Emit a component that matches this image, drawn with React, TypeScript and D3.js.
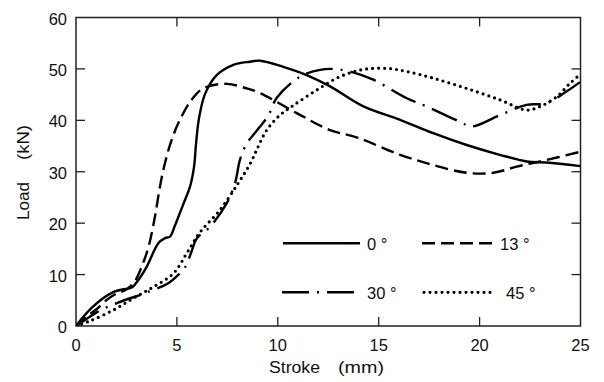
import React from "react";
import * as d3 from "d3";

const xTicks = [0, 5, 10, 15, 20, 25];
const yTicks = [0, 10, 20, 30, 40, 50, 60];

const deg0: [number, number][] = [
  [0, 0], [0.3, 1.5], [0.8, 3.6], [1.34, 5.4], [1.85, 6.6], [2.3, 7.1], [2.76, 7.5], [3.1, 9], [3.5, 11.5],
  [4.08, 16.1], [4.41, 17.1], [4.66, 17.4], [4.9, 19.5], [5.15, 22], [5.4, 24.5], [5.65, 27.1], [5.85, 31],
  [5.95, 35.5], [6.1, 40.5], [6.4, 45.2], [6.97, 48.8], [7.8, 50.8], [8.62, 51.4], [9.12, 51.6], [10.27, 50.4],
  [11.43, 48.8], [12.59, 46.6], [14.24, 42.7], [16.06, 40.1], [17.7, 37.5], [19.36, 35.2], [21.0, 33.3],
  [22.33, 32.0], [23.3, 31.8], [25, 31.1],
];

const deg13: [number, number][] = [
  [0, 0], [0.5, 1.8], [1.0, 3.2], [1.5, 5.0], [2.0, 6.3], [2.5, 7.1], [2.9, 8.6], [3.3, 12.0], [3.6, 15.5],
  [3.9, 21], [4.16, 27.1], [4.41, 31.7], [4.74, 36.2], [5.15, 40.1], [5.73, 44], [6.3, 46.2], [7.47, 47.1],
  [8.46, 46.2], [9.12, 45.3], [10.94, 41.4], [12.59, 38.1], [13.9, 36.7], [16.06, 33.3], [17.7, 31.3],
  [19.36, 29.8], [20.68, 29.8], [21.84, 31], [23, 32], [25, 33.9],
];

const deg30: [number, number][] = [
  [0, 0], [0.5, 1.3], [1.0, 2.6], [1.5, 3.6], [2.0, 4.4], [2.6, 5.3], [3.17, 6], [3.6, 6.7], [4.2, 7.6],
  [4.57, 8.3], [5.0, 9.7], [5.4, 11.4], [5.7, 14.2], [5.98, 17.0], [6.64, 19.3], [7.47, 23.9], [7.88, 27.8],
  [8.13, 32.4], [8.46, 35.5], [8.79, 37.2], [9.12, 38.8], [9.53, 40.9], [9.95, 44.4], [11.1, 48.5],
  [12.09, 49.8], [12.75, 50], [13.58, 49.5], [14.73, 47.9], [16.39, 44.3], [17.38, 42.7], [19.03, 39.7],
  [19.61, 38.8], [21.0, 41], [22.33, 43], [23.3, 43.3], [24.3, 45.6], [25, 47.5],
];

const deg45: [number, number][] = [
  [0, 0], [0.7, 1.0], [1.85, 3.1], [2.84, 5.4], [3.83, 7.6], [4.82, 10.2], [5.48, 14.1], [6.14, 18.2],
  [7.14, 22.6], [8.04, 27.8], [8.62, 31.5], [9.03, 34.9], [9.45, 38.1], [10.1, 41], [10.77, 42.9],
  [11.93, 45.9], [13.08, 48.5], [14.24, 49.9], [15.4, 50.1], [16.39, 49.5], [17.7, 48.2], [19.36, 46.2],
  [21.0, 44], [22.33, 42], [23, 42.7], [23.82, 44.6], [24.48, 47.2], [25, 49],
];

const seriesLabels = ["0 °", "13 °", "30 °", "45 °"];
const xLabelParts = ["Stroke", "(mm)"];
const yLabelParts = ["Load", "(kN)"];

const W = 604;
const H = 382;
const L = 76;
const R = 580.5;
const T = 17.5;
const B = 326;

const styles = [
  { dash: undefined as string | undefined, cap: "butt", width: 2.4 },
  { dash: "13,6", cap: "butt", width: 2.4 },
  { dash: "27,8,2,8", cap: "butt", width: 2.4 },
  { dash: "0,6", cap: "round", width: 3.2 },
];

export default function App() {
  const x = d3.scaleLinear().domain([0, 25]).range([L, R]);
  const y = d3.scaleLinear().domain([0, 60]).range([B, T]);
  const line = d3
    .line<[number, number]>()
    .x((d) => x(d[0]))
    .y((d) => y(d[1]))
    .curve(d3.curveCatmullRom.alpha(0.5));
  const data = [deg0, deg13, deg30, deg45];
  const font = "'Liberation Sans', Arial, sans-serif";
  const tickLen = 9;
  const axisColor = "#222";

  const legendPos = [
    { x1: 283, x2: 360, y: 243.3, tx: 367, ty: 250 },
    { x1: 422, x2: 497, y: 243.3, tx: 500, ty: 250 },
    { x1: 282, x2: 357, y: 292.3, tx: 367, ty: 298.5 },
    { x1: 424, x2: 492, y: 292.3, tx: 506, ty: 298.5 },
  ];

  return (
    <svg
      width={W}
      height={H}
      style={{ position: "absolute", left: 0, top: 0, background: "#fff" }}
      fontFamily={font}
    >
      <rect x={0} y={0} width={W} height={H} fill="#fff" />
      <defs>
        <clipPath id="plot">
          <rect x={L} y={T} width={R - L} height={B - T} />
        </clipPath>
      </defs>
      {xTicks.slice(1, -1).map((t) => (
        <g key={"xt" + t}>
          <line x1={x(t)} x2={x(t)} y1={B} y2={B - tickLen} stroke={axisColor} strokeWidth={1.3} />
          <line x1={x(t)} x2={x(t)} y1={T} y2={T + tickLen} stroke={axisColor} strokeWidth={1.3} />
        </g>
      ))}
      {yTicks.slice(1, -1).map((t) => (
        <g key={"yt" + t}>
          <line x1={L} x2={L + tickLen} y1={y(t)} y2={y(t)} stroke={axisColor} strokeWidth={1.3} />
          <line x1={R} x2={R - tickLen} y1={y(t)} y2={y(t)} stroke={axisColor} strokeWidth={1.3} />
        </g>
      ))}
      <rect x={L} y={T} width={R - L} height={B - T} fill="none" stroke={axisColor} strokeWidth={1.5} />
      {xTicks.map((t) => (
        <text key={"xl" + t} x={x(t)} y={351} fontSize={16.5} textAnchor="middle" fill="#111">
          {t}
        </text>
      ))}
      {yTicks.map((t) => (
        <text key={"yl" + t} x={67} y={y(t) + 7} fontSize={16.5} textAnchor="end" fill="#111">
          {t}
        </text>
      ))}
      <text x={269} y={373} fontSize={16} fill="#111" textLength={51} lengthAdjust="spacingAndGlyphs">
        {xLabelParts[0]}
      </text>
      <text x={338} y={373} fontSize={16.5} fill="#111" textLength={46} lengthAdjust="spacingAndGlyphs">
        {xLabelParts[1]}
      </text>
      <g transform="translate(28.5,0) rotate(-90)">
        <text x={-220} y={0} fontSize={16} fill="#111" textLength={38} lengthAdjust="spacingAndGlyphs">
          {yLabelParts[0]}
        </text>
        <text x={-160} y={0} fontSize={16.5} fill="#111" textLength={35} lengthAdjust="spacingAndGlyphs">
          {yLabelParts[1]}
        </text>
      </g>
      <g clipPath="url(#plot)">
        {data.map((d, i) => (
          <path
            key={"s" + i}
            d={line(d) || ""}
            fill="none"
            stroke="#000"
            strokeWidth={styles[i].width}
            strokeDasharray={styles[i].dash}
            strokeLinecap={styles[i].cap as any}
            strokeLinejoin="round"
          />
        ))}
      </g>
      {legendPos.map((p, i) => (
        <g key={"lg" + i}>
          <line
            x1={p.x1}
            x2={p.x2}
            y1={p.y}
            y2={p.y}
            stroke="#000"
            strokeWidth={styles[i].width}
            strokeDasharray={styles[i].dash}
            strokeLinecap={styles[i].cap as any}
          />
          <text x={p.tx} y={p.ty} fontSize={16.5} fill="#111" style={{ whiteSpace: "pre" }}>
            {seriesLabels[i]}
          </text>
        </g>
      ))}
    </svg>
  );
}
